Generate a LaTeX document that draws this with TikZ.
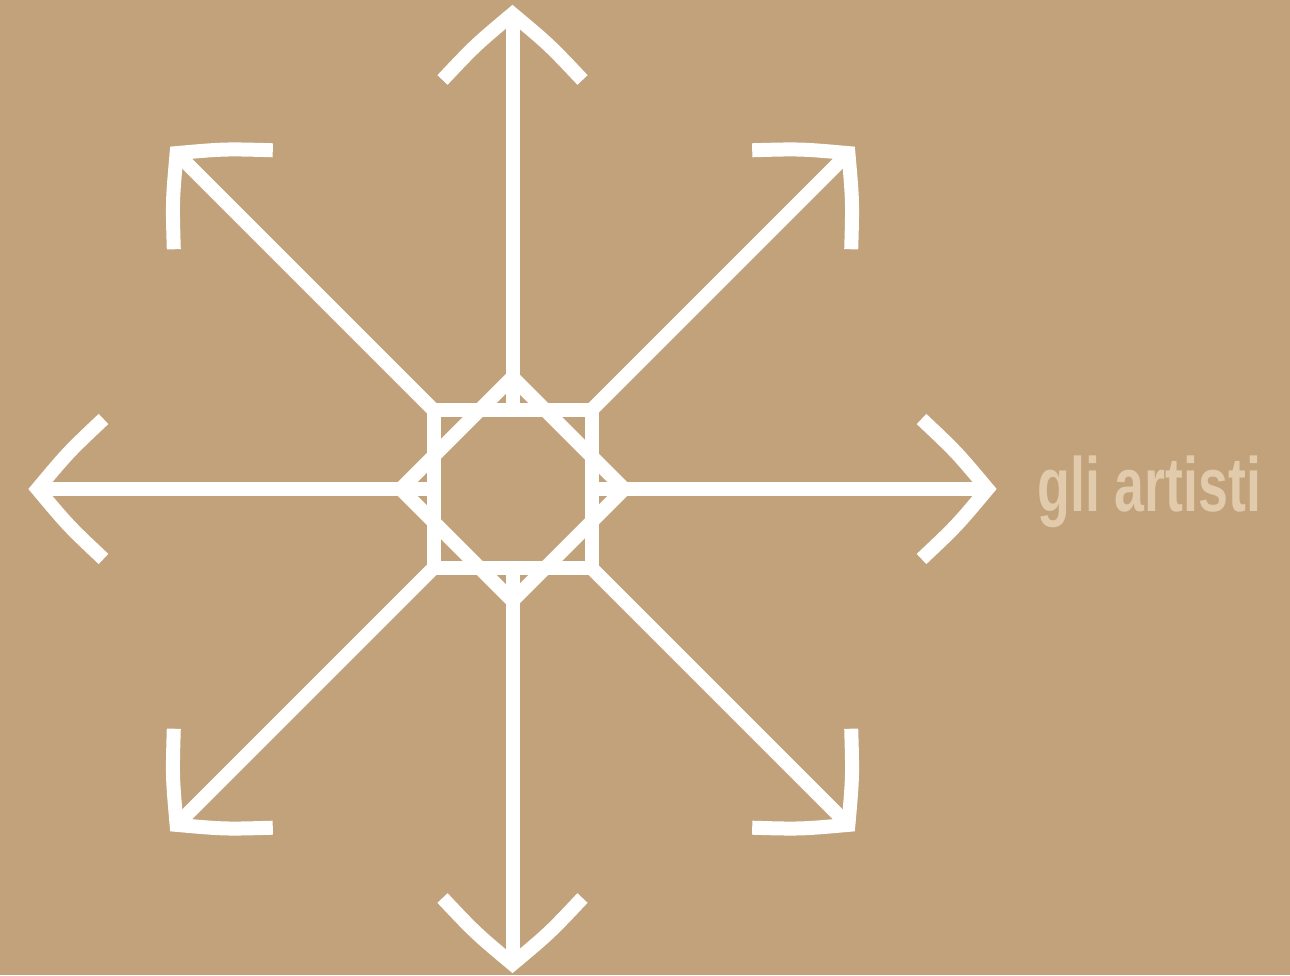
\documentclass[tikz,border=0pt]{standalone}
\usepackage{fontspec}
\setmainfont{Liberation Sans}
\usetikzlibrary{positioning}
\definecolor{sand}{HTML}{C1A27A}
\definecolor{sandlt}{HTML}{E2CBAD}
\tikzset{
  ln/.style   = {draw=white, line width=7pt},
  shft/.style = {ln, line cap=butt},
  hd/.style   = {ln, line cap=butt, line join=miter, miter limit=10},
  sq/.style   = {ln, line join=miter, miter limit=10},
  lbl/.style  = {text=sandlt, font=\bfseries\fontsize{38.4}{40}\selectfont, inner sep=0pt,
                 anchor=base west, xscale=0.7, transform shape},
}

\begin{document}
\begin{tikzpicture}[x=0.5pt,y=0.5pt]
  \fill[sand] (0,0) rectangle (1290,975);
  \coordinate (c) at (512.5,486);
  \begin{scope}[shift={(c)}]
    % octagram in the middle
    \draw[sq] (-79,-79) rectangle (79,79);
    \draw[sq] (0,-111.7) -- (111.7,0) -- (0,111.7) -- (-111.7,0) -- cycle;
    % eight arrows
    \foreach \a/\r in {0/79,45/111.7,90/79,135/111.7,180/79,225/111.7,270/79,315/111.7} {
      \begin{scope}[rotate=\a]
        \draw[shft] (\r,0) -- (470,0);
        \draw[hd] (409,70) .. controls (444,37) .. (475,0) .. controls (444,-37) .. (409,-70);
      \end{scope}
    }
  \end{scope}
  \node[lbl] (title) at (1037,463) {gli artisti};
\end{tikzpicture}
\end{document}
